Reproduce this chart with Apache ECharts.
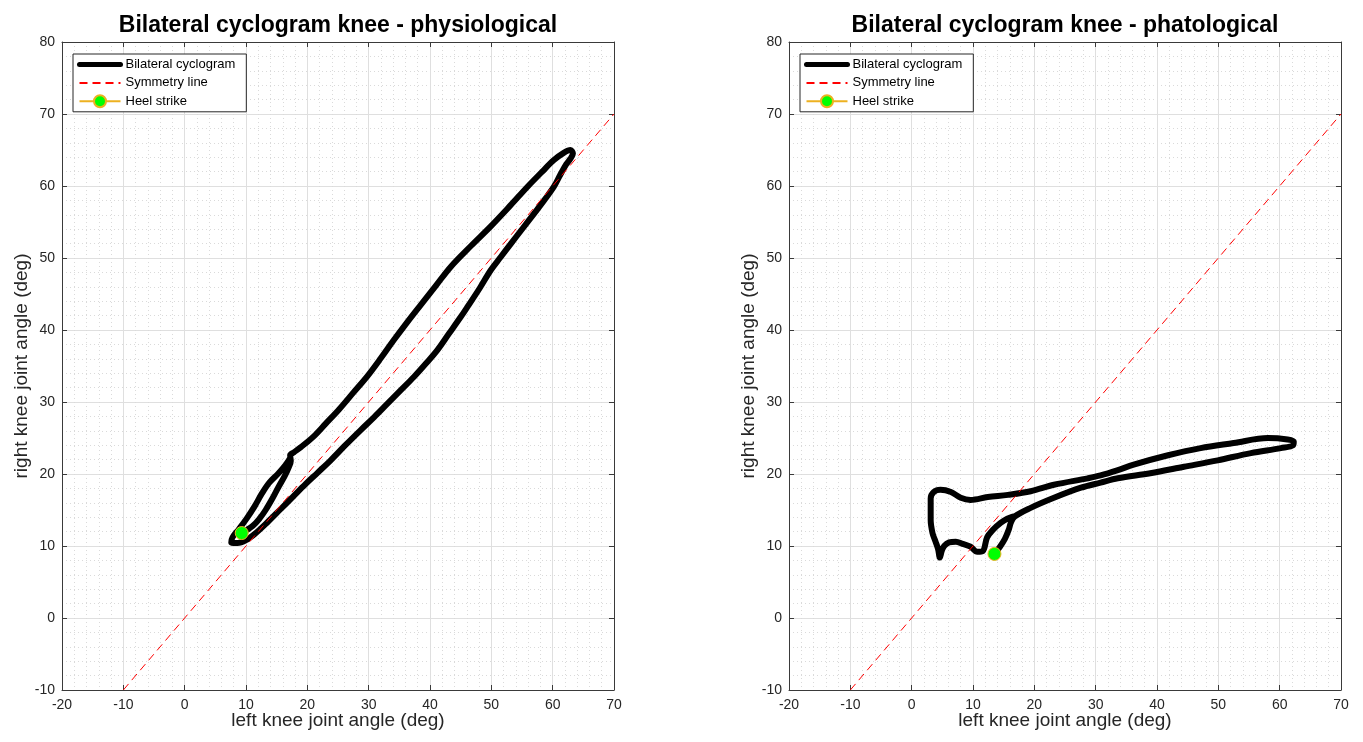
<!DOCTYPE html>
<html>
<head>
<meta charset="utf-8">
<script src="https://cdn.jsdelivr.net/npm/echarts/dist/echarts.min.js"></script>
<style>
  html, body { margin: 0; padding: 0; background: #ffffff; }
  #chart { width: 1363px; height: 742px; }
</style>
</head>
<body>
<div id="chart"></div>
<script>
// Knee joint angles over one gait cycle (deg): left knee on x, right knee on y.
const physioLeftKnee = [
  9.3, 11.1, 12.2, 13.2, 14.3, 15.3, 16.3, 17.0, 17.3, 17.2, 17.8, 18.9, 21.0, 23.0,
  25.2, 27.5, 29.8, 32.0, 34.1, 36.3, 38.5, 41.0, 43.4, 46.7, 49.9, 53.0, 55.9, 58.3, 60.2,
  61.8, 62.9, 63.3, 62.9, 62.2, 61.2, 60.2, 58.6, 57.0, 55.1, 53.2, 51.5, 49.9, 48.1, 46.1,
  45.0, 43.1, 41.2, 39.3, 37.4, 35.2, 33.1, 30.9, 28.7, 26.2, 23.8, 21.7, 19.7, 17.6, 15.5,
  13.5, 11.6, 10.0, 8.6, 7.6, 7.8, 8.8, 10.1, 11.4, 12.6, 13.8, 15.3, 16.5, 17.2
];
const physioRightKnee = [
  11.8, 12.8, 13.8, 15.0, 16.6, 18.2, 19.7, 21.0, 21.8, 22.6, 23.0, 23.7, 25.2, 27.0,
  29.0, 31.3, 33.6, 36.1, 38.6, 41.1, 43.5, 46.2, 48.8, 51.7, 54.4, 57.2, 59.9, 62.0, 63.6,
  64.6, 65.0, 64.5, 63.8, 63.0, 61.5, 59.9, 58.0, 56.2, 54.1, 52.0, 50.1, 48.3, 45.8, 43.2,
  41.8, 39.5, 37.2, 35.3, 33.5, 31.6, 29.8, 27.9, 26.1, 24.0, 21.9, 20.2, 18.6, 16.8, 15.0,
  13.3, 11.8, 10.8, 10.4, 10.5, 11.2, 12.3, 13.8, 15.5, 17.3, 18.8, 20.1, 21.3, 22.2
];
const patholLeftKnee = [
  13.5, 14.4, 15.2, 15.8, 16.2, 16.8, 19.4, 23.2, 27.6, 30.8, 33.6, 38.9, 44.4, 49.9, 55.3,
  60.2, 62.2, 62.3, 61.3, 58.1, 52.5, 47.1, 41.8, 36.2, 33.5, 30.8, 28.7, 23.2, 19.4, 15.7,
  12.4, 9.6, 8.0, 6.4, 4.7, 3.6, 3.1, 3.1, 3.1, 3.4, 3.9, 4.3, 4.6, 4.9, 5.3,
  6.1, 7.2, 8.3, 9.6, 10.7, 11.6, 12.3, 13.2, 14.5, 15.6, 16.5
];
const patholRightKnee = [
  8.9, 9.9, 11.0, 12.2, 13.3, 14.1, 15.3, 16.7, 18.1, 18.8, 19.4, 20.1, 21.0, 21.9, 22.9,
  23.6, 24.0, 24.5, 24.8, 25.0, 24.3, 23.6, 22.6, 21.3, 20.5, 19.8, 19.4, 18.5, 17.6, 17.1,
  16.8, 16.4, 16.7, 17.5, 17.8, 17.5, 16.6, 15.2, 13.6, 11.8, 10.6, 9.6, 8.4, 9.3, 10.0,
  10.5, 10.6, 10.3, 9.9, 9.2, 9.3, 11.2, 12.2, 13.2, 13.8, 14.1
];
// Heel strike instants [left knee, right knee]
const physioHeelStrike = [9.3, 11.8];
const patholHeelStrike = [13.5, 8.9];
// Line of perfect symmetry (left = right)
const symmetryLine = [-10, 70];

const titles = ['Bilateral cyclogram knee - physiological', 'Bilateral cyclogram knee - phatological'];
const seriesNames = ['Bilateral cyclogram', 'Symmetry line', 'Heel strike'];
const xAxisName = 'left knee joint angle (deg)';
const yAxisName = 'right knee joint angle (deg)';
const xRange = [-20, 70];
const yRange = [-10, 80];
const tickStep = 10;

const FONT = "'Liberation Sans', Arial, Helvetica, sans-serif";
const AXIS_COLOR = '#3a3a3a';
const TEXT_COLOR = '#262626';
const HIDDEN = { color: 'rgba(0,0,0,0)', borderColor: 'rgba(0,0,0,0)', borderWidth: 0 };

const zip = (a, b) => a.map((v, i) => [v, b[i]]);

const panels = [
  { left: 62, cyc: zip(physioLeftKnee, physioRightKnee), hs: physioHeelStrike, title: titles[0] },
  { left: 789, cyc: zip(patholLeftKnee, patholRightKnee), hs: patholHeelStrike, title: titles[1] }
];
const PW = 552, PT = 42, PH = 648;

const grid = [], xAxis = [], yAxis = [], series = [], title = [], legend = [];

function baseAxis(range, extra) {
  return Object.assign({
    type: 'value', min: range[0], max: range[1], interval: tickStep,
    axisLine: { show: true, onZero: false, lineStyle: { color: AXIS_COLOR, width: 1 } },
    axisTick: { show: true, inside: true, length: 5, lineStyle: { color: AXIS_COLOR, width: 1 } },
    minorTick: { show: false, splitNumber: 5 },
    splitLine: { show: false },
    minorSplitLine: { show: false },
    axisLabel: { show: false }
  }, extra);
}

const majorGrid = { show: true, lineStyle: { color: '#dfdfdf', width: 1 } };
const minorGrid = { show: true, lineStyle: { color: '#dadada', width: 1, type: [1, 3] } };

panels.forEach((p, i) => {
  grid.push({ left: p.left, top: PT, width: PW, height: PH, containLabel: false, outerBoundsMode: 'none' });
  // bottom / left axes carry the labels and the grid; top / right close the box
  xAxis.push(baseAxis(xRange, {
    gridIndex: i, position: 'bottom',
    name: xAxisName, nameLocation: 'middle', nameGap: 21, nameMoveOverlap: false,
    nameTextStyle: { fontFamily: FONT, fontSize: 19, color: TEXT_COLOR },
    axisLabel: { show: true, margin: 8, fontFamily: FONT, fontSize: 14, color: TEXT_COLOR },
    splitLine: majorGrid, minorSplitLine: minorGrid
  }));
  xAxis.push(baseAxis(xRange, { gridIndex: i, position: 'top' }));
  yAxis.push(baseAxis(yRange, {
    gridIndex: i, position: 'left',
    name: yAxisName, nameLocation: 'middle', nameGap: 31, nameMoveOverlap: false,
    nameTextStyle: { fontFamily: FONT, fontSize: 19, color: TEXT_COLOR },
    axisLabel: { show: true, margin: 7, fontFamily: FONT, fontSize: 14, color: TEXT_COLOR },
    splitLine: majorGrid, minorSplitLine: minorGrid
  }));
  yAxis.push(baseAxis(yRange, { gridIndex: i, position: 'right' }));

  const xi = i * 2, yi = i * 2;
  series.push({
    name: seriesNames[0], type: 'line', xAxisIndex: xi, yAxisIndex: yi,
    data: p.cyc, symbol: 'none', smooth: 0.35, z: 3,
    lineStyle: { color: '#000000', width: 6, cap: 'round', join: 'round' },
    itemStyle: HIDDEN
  });
  series.push({
    name: seriesNames[1], type: 'line', xAxisIndex: xi, yAxisIndex: yi,
    data: [[symmetryLine[0], symmetryLine[0]], [symmetryLine[1], symmetryLine[1]]],
    symbol: 'none', z: 4,
    lineStyle: { color: '#ff0000', width: 1, type: [8, 5] },
    itemStyle: HIDDEN
  });
  series.push({
    name: seriesNames[2], type: 'line', xAxisIndex: xi, yAxisIndex: yi,
    data: [p.hs], symbol: 'circle', symbolSize: 13, z: 5,
    lineStyle: { color: '#EDB120', width: 1 },
    itemStyle: { color: '#00ff00', borderColor: '#EDB120', borderWidth: 1 }
  });

  title.push({
    text: p.title, left: p.left + PW / 2, top: 14, textAlign: 'center', padding: 0,
    textStyle: { fontFamily: FONT, fontSize: 23, fontWeight: 'bold', color: '#000000' }
  });
  legend.push({
    orient: 'vertical', left: p.left + 11, top: 54,
    data: [
      { name: seriesNames[0], lineStyle: { width: 5 } },
      { name: seriesNames[1] },
      { name: seriesNames[2] }
    ],
    itemWidth: 41, itemHeight: 15, itemGap: 3.4,
    padding: [3, 11, 3, 4],
    backgroundColor: '#ffffff', borderColor: '#262626', borderWidth: 1, borderRadius: 0,
    textStyle: { fontFamily: FONT, fontSize: 13, color: '#000000', lineHeight: 15 },
    selectedMode: false
  });
});

const chart = echarts.init(document.getElementById('chart'), null, { renderer: 'canvas' });
chart.setOption({
  backgroundColor: '#ffffff',
  animation: false,
  title, legend, grid, xAxis, yAxis, series
});
</script>
</body>
</html>
